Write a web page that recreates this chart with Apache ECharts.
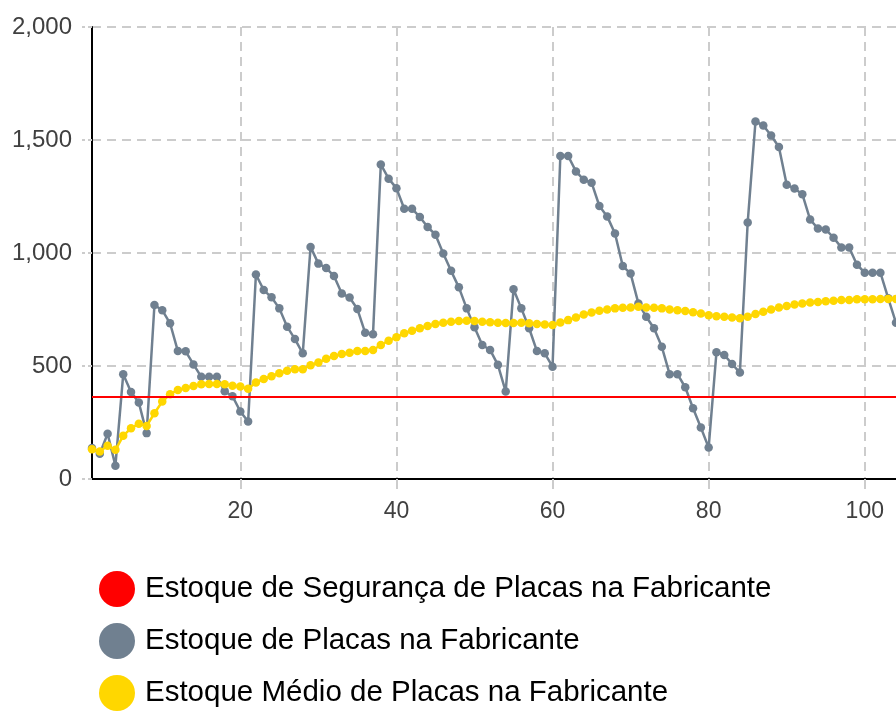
<!DOCTYPE html>
<html>
<head>
<meta charset="utf-8">
<script src="https://cdn.jsdelivr.net/npm/echarts@6/dist/echarts.min.js"></script>
<style>
html,body{margin:0;padding:0;background:#fff;}
#chart{width:896px;height:711px;}
</style>
</head>
<body>
<div id="chart"></div>
<script>
const seriesNames = [
  'Estoque de Segurança de Placas na Fabricante',
  'Estoque de Placas na Fabricante',
  'Estoque Médio de Placas na Fabricante'
];
const safetyStockLevel = 365;
const stock = [
  137,112,200,59,463,385,338,203,770,747,
  689,566,565,507,452,452,452,388,366,299,
  254,905,836,804,755,674,619,556,1027,953,
  934,898,821,803,752,647,641,1392,1329,1287,
  1196,1196,1159,1115,1081,998,921,848,755,671,
  593,571,505,387,840,755,667,566,556,497,
  1429,1429,1361,1324,1311,1208,1162,1086,942,909,
  777,718,667,585,464,464,406,313,228,139,
  561,549,509,471,1135,1582,1564,1520,1469,1302,
  1285,1260,1148,1108,1104,1068,1024,1024,948,913,
  913,913,800,691
];
const averageStock = [
  132,122,147,129,191,225,244,235,291,343,
  375,394,403,412,419,420,420,419,413,409,
  399,427,443,455,468,479,486,486,503,515,
  532,544,553,559,566,566,571,593,612,627,
  645,656,667,677,686,691,696,699,700,699,
  696,694,691,690,690,691,689,686,684,681,
  693,703,715,728,737,744,750,755,758,759,
  762,759,758,755,750,747,743,738,732,725,
  720,718,715,711,718,730,740,750,759,765,
  772,777,781,783,786,789,792,792,795,795,
  795,796,797,797
];
const periods = stock.map((_, k) => String(k + 1));
const yTicks = [0, 500, 1000, 1500, 2000];

const labelEvery20 = (idx, val) => Number(val) % 20 === 0;

const chart = echarts.init(document.getElementById('chart'), null, {renderer: 'canvas'});
chart.setOption({
  animation: false,
  backgroundColor: '#ffffff',
  grid: {left: 92, right: 0, top: 27, bottom: 232, containLabel: false},
  legend: {
    orient: 'vertical',
    left: 99,
    top: 571,
    padding: 0,
    itemGap: 16,
    itemWidth: 36,
    itemHeight: 36,
    icon: 'circle',
    data: seriesNames,
    textStyle: {fontFamily: 'Liberation Sans', fontSize: 29.5, color: '#000', padding: [0,0,0,5]}
  },
  xAxis: {
    type: 'category',
    data: periods,
    boundaryGap: false,
    axisLine: {show: true, lineStyle: {color: '#000', width: 2}},
    axisTick: {show: true, interval: labelEvery20, length: 10, lineStyle: {color: '#cccccc', width: 2}},
    axisLabel: {interval: labelEvery20, margin: 21, fontFamily: 'Liberation Sans', fontSize: 23, color: '#404040'},
    splitLine: {show: true, interval: labelEvery20, lineStyle: {color: '#cccccc', width: 2, type: [9, 6]}}
  },
  yAxis: {
    type: 'value',
    min: yTicks[0],
    max: yTicks[yTicks.length - 1],
    interval: 500,
    axisLine: {show: true, lineStyle: {color: '#000', width: 2}},
    axisTick: {show: true, length: 10, lineStyle: {color: '#cccccc', width: 2, type: [4, 3]}},
    axisLabel: {margin: 20, fontFamily: 'Liberation Sans', fontSize: 24, color: '#404040',
      formatter: v => v.toLocaleString('en-US')},
    splitLine: {show: true, lineStyle: {color: '#cccccc', width: 2, type: [9, 6]}}
  },
  series: [
    {
      name: seriesNames[0],
      type: 'line',
      data: [],
      itemStyle: {color: '#ff0000'},
      lineStyle: {color: '#ff0000', width: 2},
      markLine: {
        silent: true,
        symbol: ['none', 'none'],
        label: {show: false},
        lineStyle: {color: '#ff0000', width: 2, type: 'solid'},
        data: [{yAxis: safetyStockLevel}]
      }
    },
    {
      name: seriesNames[1],
      type: 'line',
      data: stock,
      symbol: 'circle',
      symbolSize: 8.5,
      showSymbol: true,
      showAllSymbol: true,
      itemStyle: {color: '#708090'},
      lineStyle: {color: '#708090', width: 2.5}
    },
    {
      name: seriesNames[2],
      type: 'line',
      data: averageStock,
      symbol: 'circle',
      symbolSize: 8.5,
      showSymbol: true,
      showAllSymbol: true,
      itemStyle: {color: '#ffd700'},
      lineStyle: {color: '#ffd700', width: 2.5}
    }
  ]
});
</script>
</body>
</html>
